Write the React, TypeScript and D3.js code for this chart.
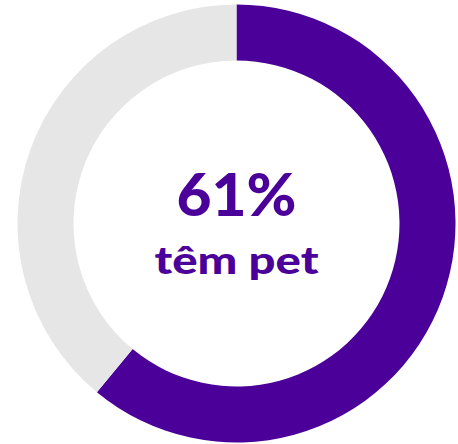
import React from "react";
import * as d3 from "d3";

const categories = ["têm pet", "não têm pet"];
const values = [61, 39];
const colors = ["#4b0099", "#e6e6e6"];
const headline = "61%";
const subtitle = "têm pet";

export default function App() {
  const width = 458;
  const height = 444;
  const cx = 236.5;
  const cy = 223.5;
  const outerR = 219;
  const innerR = 163;

  const pie = d3.pie<number>().sort(null).value((d) => d)(values);
  const arc = d3.arc<d3.PieArcDatum<number>>().innerRadius(innerR).outerRadius(outerR);

  return (
    <svg
      width={width}
      height={height}
      style={{ position: "absolute", left: 0, top: 0, background: "#fff" }}
    >
      <g transform={`translate(${cx},${cy})`}>
        {pie.map((p, i) => (
          <path key={categories[i]} d={arc(p) || ""} fill={colors[i]} />
        ))}
        <text
          x={0}
          y={-7.5}
          textAnchor="middle"
          fill={colors[0]}
          fontFamily="Lato, 'Open Sans', sans-serif"
          fontWeight={900}
          fontSize={59}
          textLength={120}
          lengthAdjust="spacingAndGlyphs"
        >
          {headline}
        </text>
        <text
          x={0}
          y={50}
          textAnchor="middle"
          fill={colors[0]}
          fontFamily="Lato, 'Open Sans', sans-serif"
          fontWeight={900}
          fontSize={37}
          textLength={164}
          lengthAdjust="spacingAndGlyphs"
        >
          {subtitle}
        </text>
      </g>
    </svg>
  );
}
